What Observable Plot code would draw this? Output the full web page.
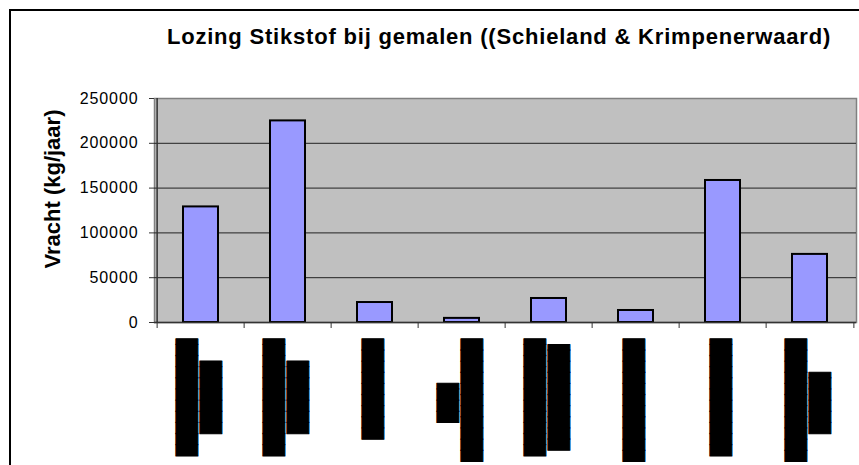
<!DOCTYPE html>
<html>
<head>
<meta charset="utf-8">
<script src="https://cdn.jsdelivr.net/npm/d3@7"></script>
<script src="https://cdn.jsdelivr.net/npm/@observablehq/plot@0.6"></script>
<style>
  html, body { margin: 0; padding: 0; background: #fff; }
  #wrap { position: relative; width: 859px; height: 465px; overflow: hidden; background: #fff; }
  #border { position: absolute; left: 9px; top: 9px; width: 1000px; height: 700px; border: 2px solid #000; box-sizing: border-box; }
  #title { position: absolute; left: 0; top: 26px; width: 998px; text-align: center;
           font-family: "Liberation Sans", Arial, sans-serif; font-weight: bold; font-size: 22px;
           line-height: 22px; letter-spacing: 0.8px; color: #000; white-space: nowrap; }
  #chart { position: absolute; left: 0; top: 60px; }
  #chart g[aria-label="y-axis tick label"] text { letter-spacing: 0.9px; }
</style>
</head>
<body>
<div id="wrap">
  <div id="border"></div>
  <div id="title"></div>
  <div id="chart"></div>
</div>
<script>
// ---- data ----
const title = "Lozing Stikstof bij gemalen ((Schieland & Krimpenerwaard)";
const yLabel = "Vracht (kg/jaar)";
// category labels (redacted in the source: shown as black blocks)
const gemalen = [
  "██████████▌\n██████▌",
  "██████████▌\n██████▌",
  "█████████",
  "███▌\n███████████",
  "██████████▌\n█████████▌",
  "███████████",
  "██████████▌",
  "███████████\n█████▌"
];
const vracht = [129000, 225000, 22300, 4600, 26800, 13400, 158500, 76000];
const yTicks = [0, 50000, 100000, 150000, 200000, 250000];

// ---- layout ----
const W = 859, H = 405;
const mL = 154, mR = 3, mT = 38, mB = 143;
const n = gemalen.length;
const bw = (W - mL - mR) / n;
const labelFont = 18.5;
const adv = 0.602 * labelFont; // advance of a block glyph (DejaVu Sans Mono)

document.getElementById("title").textContent = title;

const idx = d3.range(n);

function labelDy(s) {
  // centre of the label box so that the longest line starts 16px below the axis
  const lines = s.split("\n");
  let best = 0, bestOdd = false;
  for (const l of lines) {
    const chars = Array.from(l);
    const box = chars.length * adv;
    if (box > best) { best = box; bestOdd = chars[chars.length - 1] === "▌"; }
  }
  return 16.5 + best / 2 - (bestOdd ? adv / 2 : 0);
}

const labelMarks = gemalen.map((lab, i) =>
  Plot.text([lab], {
    x: () => i,
    text: d => d,
    frameAnchor: "bottom",
    dx: -4,
    dy: labelDy(lab),
    rotate: -90,
    textAnchor: "middle",
    lineAnchor: "middle",
    lineHeight: 24 / labelFont,
    fontSize: labelFont,
    fontFamily: "DejaVu Sans Mono",
    fill: "#000",
    stroke: "#000",
    strokeWidth: 1
  })
);

const chart = Plot.plot({
  width: W,
  height: H,
  marginLeft: mL,
  marginRight: mR,
  marginTop: mT,
  marginBottom: mB,
  style: { fontFamily: "'Liberation Sans', Arial, sans-serif", fontSize: "16px", background: "transparent", color: "#000", overflow: "visible" },
  x: { type: "band", domain: idx, padding: 0, axis: null },
  y: { domain: [0, 250000], axis: null },
  marks: [
    Plot.frame({ fill: "#C0C0C0", stroke: "#808080", strokeWidth: 1.5 }),
    Plot.ruleY(yTicks.slice(1, -1), { stroke: "#222", strokeWidth: 1 }),
    Plot.barY(idx, {
      x: i => i,
      y: i => vracht[i],
      fill: "#9999FF",
      stroke: "#000",
      strokeWidth: 2,
      insetLeft: 26,
      insetRight: 26
    }),
    Plot.ruleX([0], { x: d => d, dx: -bw / 2, stroke: "#333", strokeWidth: 1.5 }),
    Plot.ruleY([0], { stroke: "#333", strokeWidth: 1.5 }),
    Plot.axisY({ ticks: yTicks, tickSize: 5, tickPadding: 11, tickFormat: d => String(d), label: null, fontSize: 16, stroke: "#333" }),
    Plot.axisX(idx, { tickSize: 6, tickFormat: () => "", dx: -bw / 2, label: null, stroke: "#333" }),
    Plot.axisX([n - 1], { tickSize: 6, tickFormat: () => "", dx: bw / 2, label: null, stroke: "#333" }),
    Plot.text([yLabel], {
      frameAnchor: "left",
      text: d => d,
      rotate: -90,
      dx: 52 - mL,
      dy: 188.5 - (60 + mT + (H - mT - mB) / 2),
      textAnchor: "middle",
      lineAnchor: "middle",
      fontSize: 22,
      fontWeight: "bold",
      fill: "#000"
    }),
    ...labelMarks
  ]
});
document.getElementById("chart").appendChild(chart);
</script>
</body>
</html>
